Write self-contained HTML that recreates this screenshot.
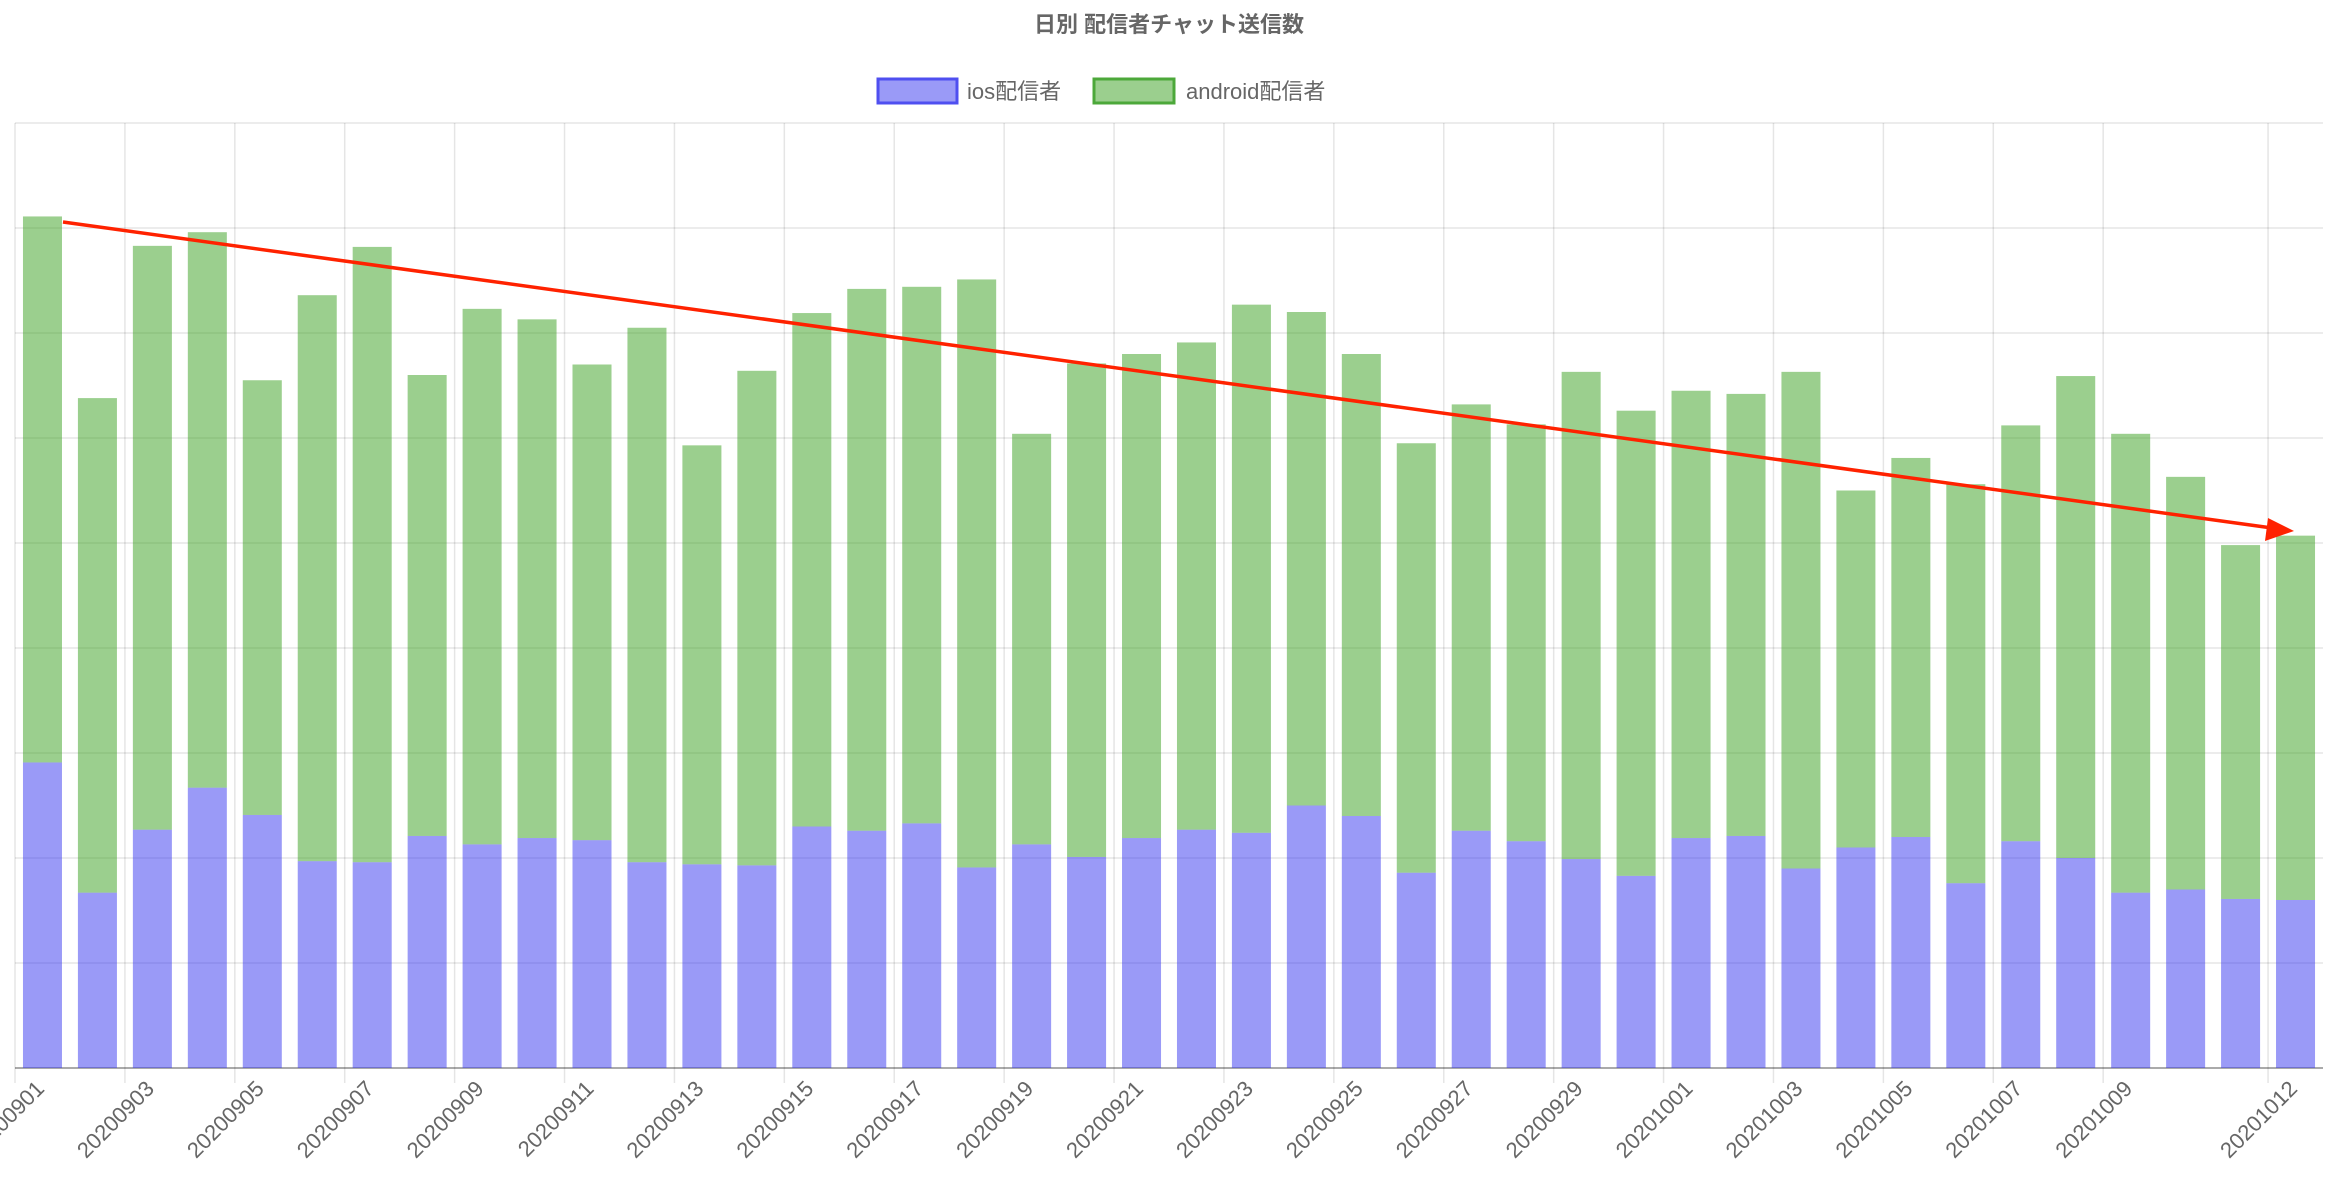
<!DOCTYPE html>
<html><head><meta charset="utf-8">
<style>
html,body{margin:0;padding:0;background:#fff;}
svg{display:block;font-family:"Liberation Sans","Noto Sans CJK JP",sans-serif;}
</style></head>
<body>
<svg id="chart" width="2338" height="1180" viewBox="0 0 2338 1180" xmlns="http://www.w3.org/2000/svg">
  <text x="1169" y="32" text-anchor="middle" font-size="22" font-weight="bold" fill="#666">日別 配信者チャット送信数</text>
  <g>
    <g>
      <rect x="878" y="79" width="79" height="24" fill="rgba(54,54,240,0.5)" stroke="#4f4ff0" stroke-width="3"/>
      <text x="967" y="99" font-size="22" fill="#666">ios配信者</text>
    </g>
    <g>
      <rect x="1094" y="79" width="80" height="24" fill="rgba(55,160,30,0.5)" stroke="#4ca83a" stroke-width="3"/>
      <text x="1186" y="99" font-size="22" fill="#666">android配信者</text>
    </g>
  </g>
  <g id="grid"></g>
  <g id="bars"></g>
  <g id="xlabels"></g>
  <g>
    <line x1="63" y1="222" x2="2272" y2="528" stroke="#ff2200" stroke-width="3.5"/>
    <polygon points="2294,531 2268,518 2265,541" fill="#ff2200"/>
  </g>
</svg>
<script>
const categories = ["20200901","20200902","20200903","20200904","20200905","20200906","20200907","20200908","20200909","20200910","20200911","20200912","20200913","20200914","20200915","20200916","20200917","20200918","20200919","20200920","20200921","20200922","20200923","20200924","20200925","20200926","20200927","20200928","20200929","20200930","20201001","20201002","20201003","20201004","20201005","20201006","20201007","20201008","20201009","20201010","20201011","20201012"];
const iosValues = [291,167,227,267,241,197,196,221,213,219,217,196,194,193,230,226,233,191,213,201,219,227,224,250,240,186,226,216,199,183,219,221,190,210,220,176,216,200,167,170,161,160];
const androidValues = [520,471,556,529,414,539,586,439,510,494,453,509,399,471,489,516,511,560,391,470,461,464,503,470,440,409,406,397,464,443,426,421,473,340,361,380,396,459,437,393,337,347];
const yTicks = [0,100,200,300,400,500,600,700,800,900];
const labelIdx = [0,2,4,6,8,10,12,14,16,18,20,22,24,26,28,30,32,34,36,38,41];

const NS="http://www.w3.org/2000/svg";
const plotLeft=15,plotRight=2323,plotBase=1068,plotTop=123,yMax=900;
const band=(plotRight-plotLeft)/categories.length;
const xL=i=>plotLeft+i*band;
const yS=v=>plotBase-(v/yMax)*(plotBase-plotTop);
function mk(tag,attrs,parent){const e=document.createElementNS(NS,tag);for(const k in attrs)e.setAttribute(k,attrs[k]);parent.appendChild(e);return e;}
const gridG=document.getElementById('grid'),barsG=document.getElementById('bars'),xlG=document.getElementById('xlabels');
yTicks.forEach(t=>{
  const l=mk('line',{x1:plotLeft,x2:plotRight,y1:yS(t),y2:yS(t),stroke:t===0?'#aaa':'rgba(0,0,0,0.1)','stroke-width':t===0?2:1.5},gridG);
  
  
});
labelIdx.forEach(i=>{
  const x=xL(i);
  const l=mk('line',{x1:x,x2:x,y1:plotTop,y2:plotBase+15,stroke:'rgba(0,0,0,0.1)','stroke-width':1.5},gridG);
  
  
  const cx=x+band/2+3;
  const t=mk('text',{x:cx,y:plotBase+22,'text-anchor':'end','font-size':22,fill:'#666',transform:`rotate(-45 ${cx} ${plotBase+22})`},xlG);
  t.textContent=categories[i];
  
  
});
const bw=band*0.71;
categories.forEach((c,i)=>{
  const x=xL(i)+(band-bw)/2;
  const yi=yS(iosValues[i]);
  const r1=mk('rect',{x:x,y:yi,width:bw,height:plotBase-yi,fill:'rgba(54,54,240,0.5)'},barsG);
  
  
  const ya=yS(iosValues[i]+androidValues[i]);
  const r2=mk('rect',{x:x,y:ya,width:bw,height:yi-ya,fill:'rgba(55,160,30,0.5)'},barsG);
  
  
});
</script>
</body></html>
